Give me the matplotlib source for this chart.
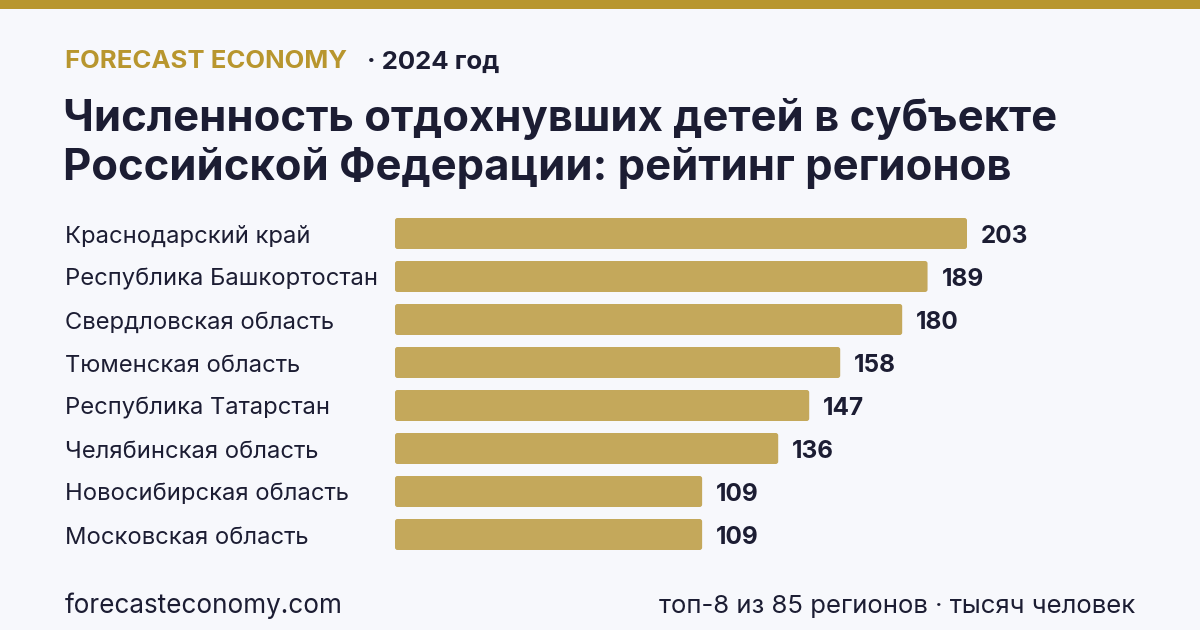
import matplotlib
matplotlib.use("Agg")
import matplotlib.pyplot as plt
from matplotlib.patches import FancyBboxPatch, Rectangle

regions = ["Краснодарский край", "Республика Башкортостан", "Свердловская область",
           "Тюменская область", "Республика Татарстан", "Челябинская область",
           "Новосибирская область", "Московская область"]
values = [203, 189, 180, 158, 147, 136, 109, 109]

BG = "#F7F8FC"
GOLD = "#B8962E"
BAR = "#C4A85B"
DARK = "#1C1D33"

W, H = 1200, 630
fig = plt.figure(figsize=(12, 6.3), dpi=100, facecolor=BG)
plt.rcParams['font.family'] = ['Inter', 'DejaVu Sans']

def px(x, y):
    return x / W, 1 - y / H

# top bar
fig.patches.append(Rectangle((0, 1 - 9 / H), 1, 9 / H, transform=fig.transFigure,
                             facecolor=GOLD, edgecolor='none'))

fig.text(*px(65, 62), "FORECAST ECONOMY", color=GOLD, fontsize=18.5, fontweight='bold',
         va='center', ha='left')
fig.text(*px(367, 62), "· 2024 год", color=DARK, fontsize=18.5, fontweight='bold',
         va='center', ha='left')
fig.text(*px(63, 119), "Численность отдохнувших детей в субъекте", color=DARK,
         fontsize=31.4, fontweight='bold', va='center', ha='left')
fig.text(*px(63, 168), "Российской Федерации: рейтинг регионов", color=DARK,
         fontsize=31.4, fontweight='bold', va='center', ha='left')

x0, x1 = 395, 1100
spacing = 43
top_center = 233.5
ax_top = top_center - spacing / 2
ax_h = spacing * len(values)
ax = fig.add_axes([x0 / W, 1 - (ax_top + ax_h) / H, (x1 - x0) / W, ax_h / H])
ax.set_facecolor('none')
scale = (967 - 395) / 203.0
xmax = (x1 - x0) / scale
ax.set_xlim(0, xmax)
ax.set_ylim(len(values) - 0.5, -0.5)
ax.axis('off')

bh = 31 / spacing
r_px = 2.5
r_x = r_px / scale
r_y = r_px / spacing
text_dy = 3 / spacing
for i, (name, v) in enumerate(zip(regions, values)):
    p = FancyBboxPatch((0, i - bh / 2), v, bh,
                       boxstyle=f"round,pad=0,rounding_size={r_x}",
                       mutation_aspect=r_y / r_x,
                       facecolor=BAR, edgecolor='none')
    ax.add_patch(p)
    ax.text(v + 14 / scale, i + text_dy, f"{v}", color=DARK, fontsize=17.5,
            fontweight='bold', va='center', ha='left')
    fig.text(*px(65, top_center + 3 + spacing * i), name, color=DARK, fontsize=17.1,
             va='center', ha='left')

fig.text(*px(65, 606), "forecasteconomy.com", color=DARK, fontsize=18.8,
         va='center', ha='left')
fig.text(*px(1135, 606), "топ-8 из 85 регионов · тысяч человек", color=DARK,
         fontsize=18.5, va='center', ha='right')

fig.savefig("out.png", dpi=100, facecolor=BG)
